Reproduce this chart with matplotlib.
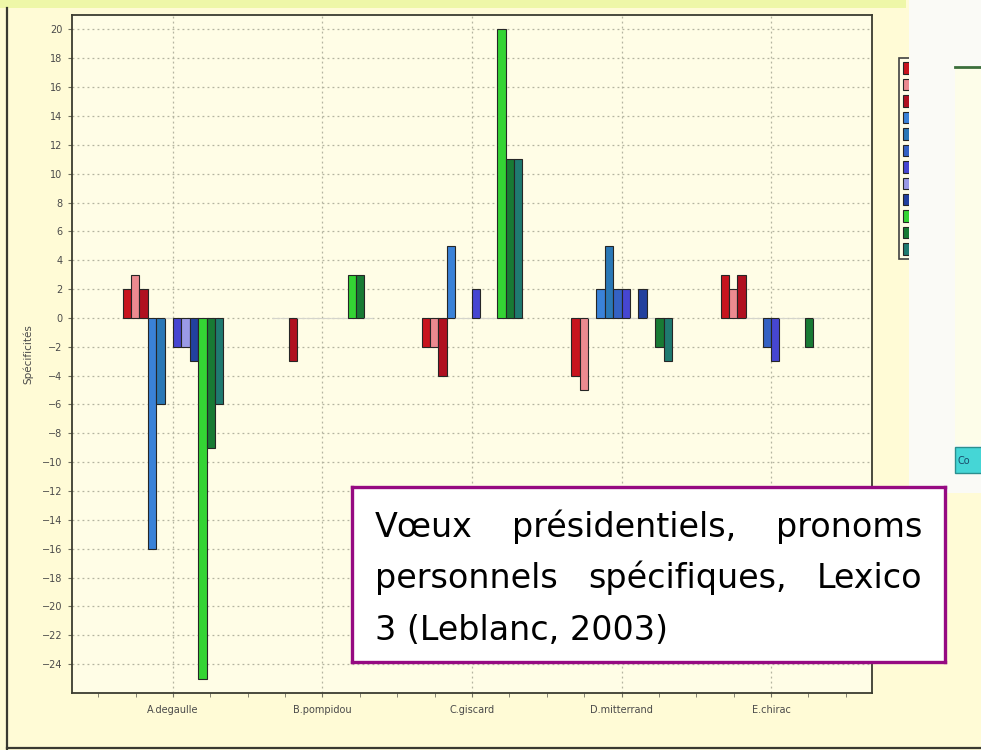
import numpy as np
import matplotlib.pyplot as plt
from matplotlib.ticker import MultipleLocator
from matplotlib.patches import Rectangle, Patch
from matplotlib.lines import Line2D

presidents = ['A.degaulle', 'B.pompidou', 'C.giscard', 'D.mitterrand', 'E.chirac']
pronouns = ['je', 'me', 'moi', 'nous', 'notre', 'nos',
            'vous', 'votre', 'vos', 'on', 'il', 'ils']

# specificity score per pronoun, one value per president
spec_je = [2, 0, -2, -4, 3]
spec_me = [3, 0, -2, -5, 2]
spec_moi = [2, -3, -4, 0, 3]
spec_nous = [-16, 0, 5, 2, 0]
spec_notre = [-6, 0, 0, 5, 0]
spec_nos = [0, 0, 0, 2, -2]
spec_vous = [-2, 0, 2, 2, -3]
spec_votre = [-2, 0, 0, 0, 0]
spec_vos = [-3, 0, 0, 2, 0]
spec_on = [-25, 3, 20, 0, 0]
spec_il = [-9, 3, 11, -2, -2]
spec_ils = [-6, 0, 11, -3, 0]

series = [spec_je, spec_me, spec_moi, spec_nous, spec_notre, spec_nos,
          spec_vous, spec_votre, spec_vos, spec_on, spec_il, spec_ils]
colors = ['#c8141e', '#ec8a90', '#b01020', '#3a82d8', '#2a78b6', '#3462c4',
          '#4646d2', '#9a9ae6', '#22409e', '#34d434', '#187a34', '#1f7a70']

yticks = list(range(-24, 21, 2))

W, H = 981, 750


def fig_rect(x0, y0, x1, y1):
    # pixel box (top-left origin) -> figure fraction
    return [x0 / W, 1 - y1 / H, (x1 - x0) / W, (y1 - y0) / H]


def justify(ax, words, y, x0, x1, renderer, **kw):
    texts = [ax.text(x0, y, w, va='baseline', ha='left', **kw) for w in words]
    if len(words) == 1:
        return
    axw = ax.get_window_extent(renderer).width
    widths = [t.get_window_extent(renderer).width / axw for t in texts]
    gap = (x1 - x0 - sum(widths)) / (len(words) - 1)
    pos = x0
    for t, wd in zip(texts, widths):
        t.set_x(pos)
        pos += wd + gap


fig = plt.figure(figsize=(W / 100, H / 100), dpi=100, facecolor='#fffbd6')

# screenshot decorations
fig.patches.append(Rectangle((0, 1 - 8 / H), 906 / W, 8 / H, transform=fig.transFigure,
                             fc='#eef7a8', ec='none', zorder=0))
fig.lines.append(Line2D([7 / W, 7 / W], [0, 1 - 8 / H], transform=fig.transFigure,
                        color='#3a3a32', lw=1.6))
fig.lines.append(Line2D([7 / W, 1], [2 / H, 2 / H], transform=fig.transFigure,
                        color='#3a3a32', lw=1.6))

ax = fig.add_axes(fig_rect(72, 15, 872, 693))
ax.set_facecolor('#fffde6')

x = np.arange(len(presidents))
w = 0.0562
for i, (vals, col) in enumerate(zip(series, colors)):
    off = (i - (len(series) - 1) / 2) * w
    edges = ['#262626' if v != 0 else '#d4d4cc' for v in vals]
    ax.bar(x + off, vals, w, color=col, edgecolor=edges, linewidth=0.8, zorder=3)

ax.set_xlim(-0.675, 4.675)
ax.set_ylim(-26, 21)
ax.set_yticks(yticks)
ax.set_xticks(x, presidents)
ax.xaxis.set_minor_locator(MultipleLocator(0.25))
ax.grid(True, which='major', linestyle=(0, (1.5, 2.5)), color='#b4b4a0', lw=0.9, zorder=1)
ax.tick_params(axis='both', which='both', labelsize=7, labelcolor='#4a4a4a',
               color='#707060', length=3)
ax.tick_params(axis='x', pad=5.5)
ax.tick_params(axis='y', pad=4)
for s in ax.spines.values():
    s.set_color('#3c3c30')
    s.set_linewidth(1.3)
ax.set_ylabel('Spécificités', fontsize=7.5, color='#4a4a4a')
ax.yaxis.set_label_coords((33 - 72) / 800, 0.5)

handles = [Patch(facecolor=c, edgecolor='#262626', linewidth=0.8, label=l)
           for c, l in zip(colors, pronouns)]
leg = fig.legend(handles=handles, loc='upper left', bbox_to_anchor=(899 / W, 1 - 58 / H),
                 borderaxespad=0, fontsize=8, handlelength=0.7, handleheight=1.2,
                 labelspacing=0.45, borderpad=0.4, fancybox=False,
                 edgecolor='#404040', facecolor='#fffde6', framealpha=1)
leg.get_frame().set_linewidth(1.2)

# neighbouring window on the right
p = fig.add_axes(fig_rect(909, 0, 981, 493), zorder=10)
p.set_facecolor('#fafaf6')
p.set_xticks([])
p.set_yticks([])
for s in p.spines.values():
    s.set_visible(False)
p.set_xlim(909, 981)
p.set_ylim(493, 0)
p.add_patch(Rectangle((955, 67), 30, 378, fc='#fdfde9', ec='none'))
p.plot([955, 981], [67, 67], color='#3b6e3b', lw=2)
p.add_patch(Rectangle((955, 447), 30, 26, fc='#45d6d6', ec='#2b8f8f', lw=1))
p.text(957, 461, 'Co', fontsize=7, color='#1a4a6a', va='center', clip_on=True)

# caption box
tb = fig.add_axes(fig_rect(352, 487, 945, 662), zorder=20)
tb.set_facecolor('white')
tb.set_xticks([])
tb.set_yticks([])
tb.set_xlim(0, 1)
tb.set_ylim(0, 1)
for s in tb.spines.values():
    s.set_color('#960a82')
    s.set_linewidth(2.4)

renderer = fig.canvas.get_renderer()
x0 = (375 - 352) / 593
x1 = (922 - 352) / 593
kw = dict(fontsize=24, color='black', family='DejaVu Sans')
justify(tb, ['Vœux', 'présidentiels,', 'pronoms'], (662 - 537) / 175, x0, x1, renderer, **kw)
justify(tb, ['personnels', 'spécifiques,', 'Lexico'], (662 - 588) / 175, x0, x1, renderer, **kw)
justify(tb, ['3 (Leblanc, 2003)'], (662 - 640) / 175, x0, x1, renderer, **kw)

fig.savefig('out.png', dpi=100, facecolor=fig.get_facecolor())
